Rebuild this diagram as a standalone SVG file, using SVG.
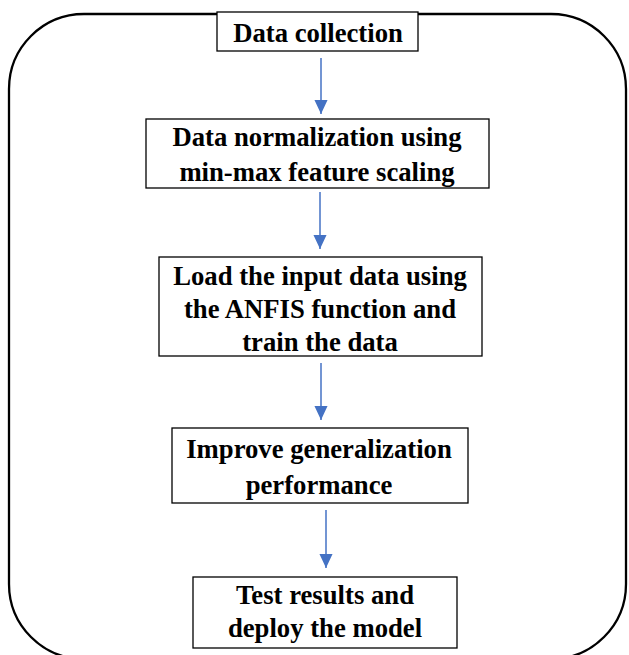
<svg xmlns="http://www.w3.org/2000/svg" width="629" height="655" viewBox="0 0 629 655">
<style>
.box{fill:#fff;stroke:#000;stroke-width:1.3}
.t{font-family:"Liberation Serif","Times New Roman",serif;font-weight:bold;font-size:26.7px;fill:#000;text-anchor:middle}
.c{stroke:#4472C4;stroke-width:1.5;fill:none}
</style>
<defs>
<marker id="ah" markerWidth="14" markerHeight="15" refX="15" refY="7" orient="auto" markerUnits="userSpaceOnUse" viewBox="0 0 15 14">
<path d="M0,0 L15,7 L0,14 Z" fill="#4472C4"/>
</marker>
</defs>
<rect x="9" y="14" width="617" height="645" rx="75" ry="75" fill="none" stroke="#000" stroke-width="2.3"/>
<g id="connectors">
<line class="c" x1="321" y1="58" x2="321" y2="114" marker-end="url(#ah)"/>
<line class="c" x1="320" y1="192" x2="320" y2="249" marker-end="url(#ah)"/>
<line class="c" x1="321" y1="363" x2="321" y2="420" marker-end="url(#ah)"/>
<line class="c" x1="326" y1="510" x2="326" y2="568" marker-end="url(#ah)"/>
</g>
<g id="n1">
<rect class="box" x="217" y="12" width="201" height="39"/>
<text class="t" x="318" y="42">Data collection</text>
</g>
<g id="n2">
<rect class="box" x="146" y="119" width="343" height="69"/>
<text class="t" x="317" y="146">Data normalization using</text>
<text class="t" x="317" y="181">min-max feature scaling</text>
</g>
<g id="n3">
<rect class="box" x="159" y="257" width="323" height="99"/>
<text class="t" x="320" y="285">Load the input data using</text>
<text class="t" x="320" y="318">the ANFIS function and</text>
<text class="t" x="320" y="351">train the data</text>
</g>
<g id="n4">
<rect class="box" x="172" y="428" width="296" height="75"/>
<text class="t" x="319" y="458">Improve generalization</text>
<text class="t" x="319" y="494">performance</text>
</g>
<g id="n5">
<rect class="box" x="193" y="577" width="264" height="71"/>
<text class="t" x="325" y="604">Test results and</text>
<text class="t" x="325" y="637">deploy the model</text>
</g>
</svg>
